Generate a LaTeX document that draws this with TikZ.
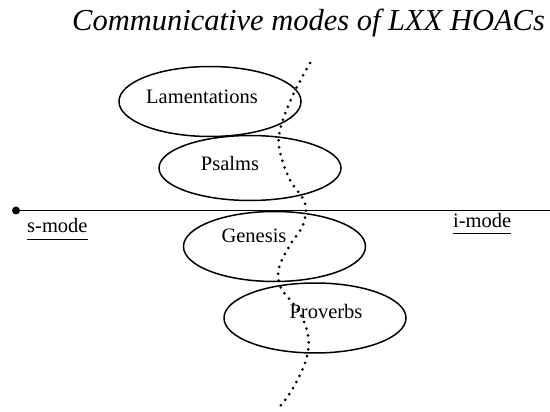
\documentclass[tikz,border=0pt]{standalone}
\usepackage{fontspec}
\setmainfont{Liberation Serif}
\usetikzlibrary{arrows.meta,shapes.geometric}
\begin{document}
\begin{tikzpicture}[x=1pt,y=-1pt,
  book/.style={draw, ellipse, line width=1.5pt, inner sep=0pt,
    minimum width=182pt, minimum height=70pt},
  lbl/.style={font=\fontsize{20.5}{24}\selectfont, inner sep=0pt, anchor=base},
  modelbl/.style={lbl, anchor=base west},
  uline/.style={line width=0.9pt},
  axis/.style={line width=1.4pt},
  dotline/.style={line width=3pt, line cap=round, dash pattern=on 0pt off 7pt},
  enddot/.style={circle, fill, inner sep=0pt, minimum size=8pt}]
\useasboundingbox (0,0) rectangle (550,412);

% title
\node[anchor=base west, font=\fontsize{30.5}{37}\selectfont\itshape, inner sep=0pt]
  (title) at (72,31) {Communicative modes of LXX HOACs};

% ellipses for the four books
\node[book] (lam) at (210,101.5) {};
\node[book, minimum height=65pt] (psa) at (250,168) {};
\node[book] (gen) at (274.5,246.5) {};
\node[book] (pro) at (315,318) {};

\node[lbl] (lamt) at (202,104) {Lamentations};
\node[lbl] (psat) at (230,171) {Psalms};
\node[lbl] (gent) at (254,242) {Genesis};
\node[lbl] (prot) at (326,318) {Proverbs};

% the s-mode / i-mode axis
\node[enddot] (sdot) at (16,210.5) {};
\coordinate (axend) at (560,210.5);
\draw[axis, -{Latex[length=10pt,width=8pt]}] (sdot.center) -- (axend);

\node[modelbl] (smode) at (27,233) {s-mode};
\node[modelbl] (imode) at (453,228) {i-mode};
\draw[uline] ([yshift=-6pt]smode.base west) -- ([yshift=-6pt]smode.base east);
\draw[uline] ([yshift=-5pt]imode.base west) -- ([yshift=-5pt]imode.base east);

% dotted wavy boundary
\coordinate (ctop) at (310,63);
\coordinate (cbot) at (277,410);
\draw[dotline] plot[smooth, tension=0.6] coordinates {
  (ctop) (292,97) (280,130) (280,152) (290,180) (305,203) (303,225)
  (290,245) (279,268) (281,288) (298,310) (308,335) (306,360) (292,390) (cbot)};
\end{tikzpicture}
\end{document}
